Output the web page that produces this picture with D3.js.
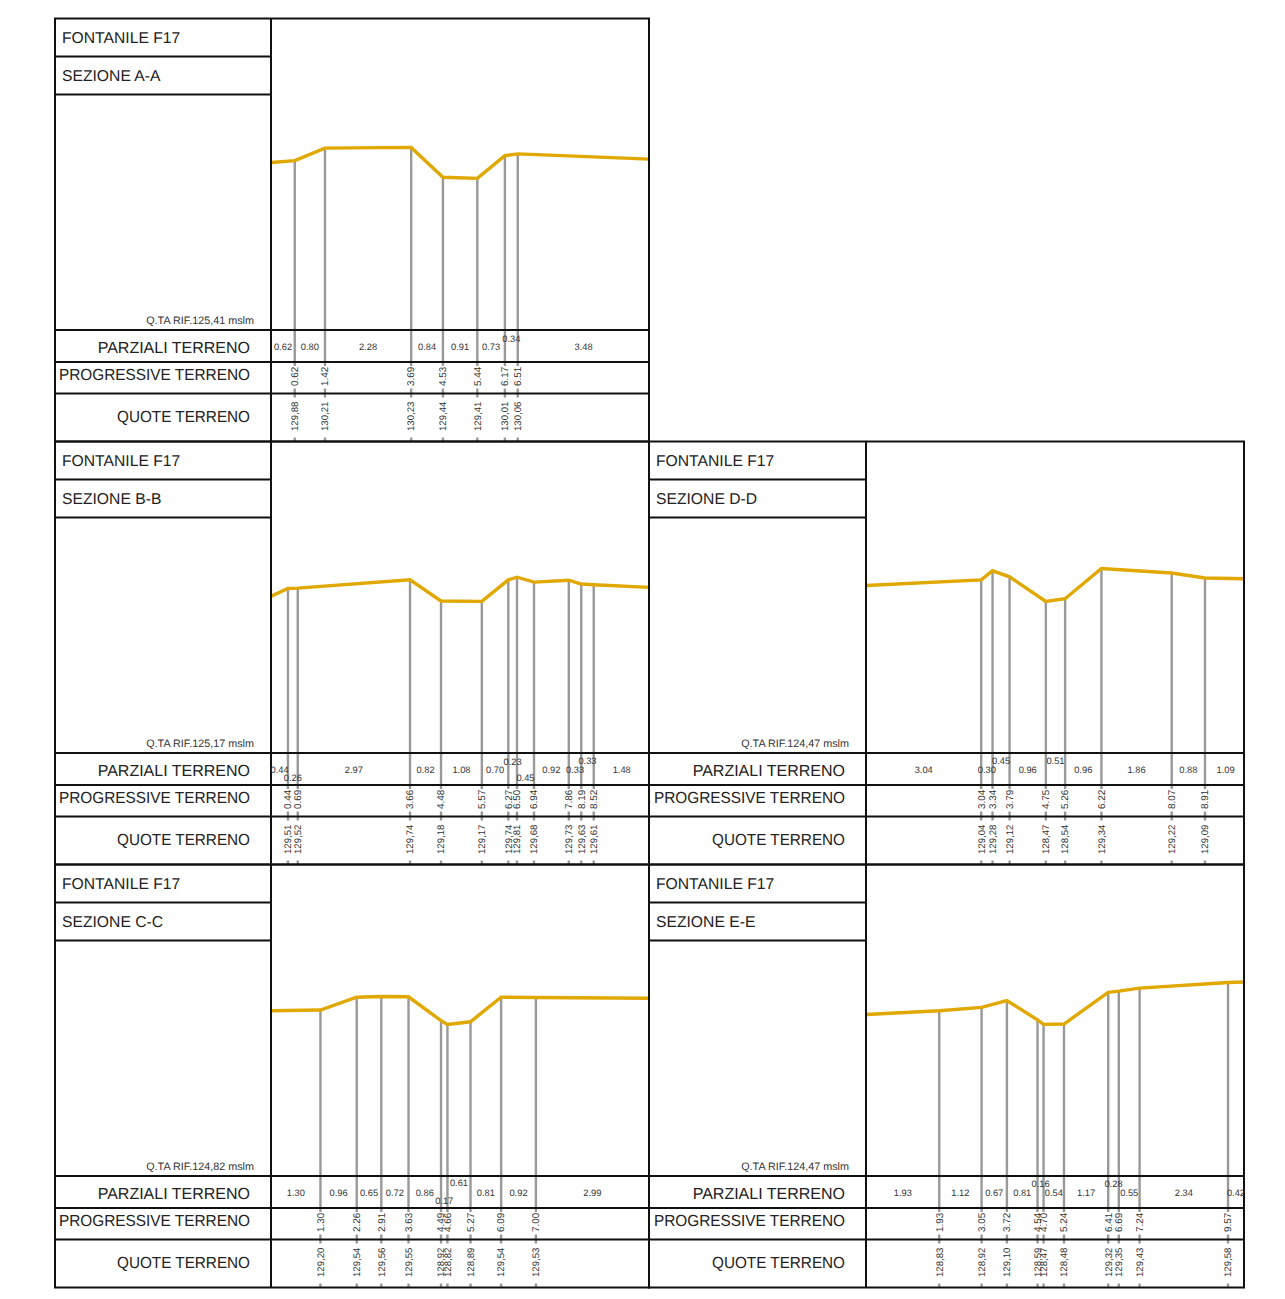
<!DOCTYPE html>
<html>
<head>
<meta charset="UTF-8">
<style>
	body { margin: 0; background: #fff; }
	svg { display: block; }
	text { font-family: "Liberation Sans", Arial, sans-serif; text-rendering: geometricPrecision; }
	.frame { stroke: #111; stroke-width: 2px; fill: none; }
	.terreno { stroke: #e0a800; stroke-width: 3.4px; fill: none; }
	.verticale { stroke: #999; stroke-width: 2.4px; }
	.titolo { font-size: 15.7px; fill: #222; }
	.riga { font-size: 16px; fill: #222; text-anchor: end; }
	.rif { font-size: 10.8px; fill: #333; text-anchor: end; }
	.parz { font-size: 9.3px; fill: #333; text-anchor: middle; }
	.prog { font-size: 9.9px; fill: #333; }
	.quota { font-size: 9.6px; fill: #333; }
</style>
<script src="https://d3js.org/d3.v7.min.js"></script>
</head>
<body>
<div id="chart"></div>
<script>
var sezioni = ["A-A", "B-B", "C-C", "D-D", "E-E"];
var colonna = [0, 0, 0, 1, 1];
var riga = [0, 1, 2, 1, 2];
var quotaRif = [125.41, 125.17, 124.82, 124.47, 124.47];

var parzialiA = [0.62, 0.80, 2.28, 0.84, 0.91, 0.73, 0.34, 3.48];
var parzialiB = [0.44, 0.26, 2.97, 0.82, 1.08, 0.70, 0.23, 0.45, 0.92, 0.33, 0.33, 1.48];
var parzialiC = [1.30, 0.96, 0.65, 0.72, 0.86, 0.17, 0.61, 0.81, 0.92, 2.99];
var parzialiD = [3.04, 0.30, 0.45, 0.96, 0.51, 0.96, 1.86, 0.88, 1.09];
var parzialiE = [1.93, 1.12, 0.67, 0.81, 0.16, 0.54, 1.17, 0.28, 0.55, 2.34, 0.42];

var progressiveA = [0.62, 1.42, 3.69, 4.53, 5.44, 6.17, 6.51];
var progressiveB = [0.44, 0.69, 3.66, 4.48, 5.57, 6.27, 6.50, 6.94, 7.86, 8.19, 8.52];
var progressiveC = [1.30, 2.26, 2.91, 3.63, 4.49, 4.66, 5.27, 6.09, 7.00];
var progressiveD = [3.04, 3.34, 3.79, 4.75, 5.26, 6.22, 8.07, 8.91];
var progressiveE = [1.93, 3.05, 3.72, 4.54, 4.70, 5.24, 6.41, 6.69, 7.24, 9.57];

var quoteA = [129.88, 130.21, 130.23, 129.44, 129.41, 130.01, 130.06];
var quoteB = [129.51, 129.52, 129.74, 129.18, 129.17, 129.74, 129.81, 129.68, 129.73, 129.63, 129.61];
var quoteC = [129.20, 129.54, 129.56, 129.55, 128.92, 128.82, 128.89, 129.54, 129.53];
var quoteD = [129.04, 129.28, 129.12, 128.47, 128.54, 129.34, 129.22, 129.09];
var quoteE = [128.83, 128.92, 129.10, 128.59, 128.47, 128.48, 129.32, 129.35, 129.43, 129.58];

// quote senza etichetta ai due estremi del profilo (stimate)
var quotaInizio = [129.83, 129.31, 129.18, 128.89, 128.73];
var quotaFine = [129.92, 129.54, 129.51, 129.07, 129.59];

var parziali = [parzialiA, parzialiB, parzialiC, parzialiD, parzialiE];
var progressive = [progressiveA, progressiveB, progressiveC, progressiveD, progressiveE];
var quote = [quoteA, quoteB, quoteC, quoteD, quoteE];

// etichette parziali spostate per non sovrapporsi (indice -> su/giu')
var spostati = [{6: -8}, {1: 8, 6: -8, 7: 8, 10: -9}, {5: 8, 6: -10}, {2: -9, 4: -9}, {4: -9, 7: -9}];

var pxPerM = 37.8;
var lunghezza = 10; // metri coperti da ogni pannello
var colX = [[55, 271, 649], [649, 866, 1244]];
var rigaY = [18.5, 441.5, 864.5];
// altezze delle righe rispetto alla cima del pannello
var hTit = 38, hSez = 76, hBase = 311.5, hParz = 343.5, hProg = 375, hFine = 423;

var svg = d3.select("#chart").append("svg")
	.attr("width", 1285)
	.attr("height", 1299);

// disegna un pannello completo
var drawSezione = function(i){
	var x0 = colX[colonna[i]][0], x1 = colX[colonna[i]][1], x2 = colX[colonna[i]][2];
	var g = svg.append("g").attr("transform", "translate(0," + rigaY[riga[i]] + ")");

	var prog = progressive[i], q = quote[i], parz = parziali[i];

	var x = d3.scaleLinear().domain([0, lunghezza]).range([x1 + 0.3, x2 + 0.3]);
	var y = d3.scaleLinear().domain([quotaRif[i], quotaRif[i] + 6]).range([hBase - 0.4, hBase - 0.4 - 6 * pxPerM]);

	// le verticali seguono la somma dei parziali, come nel disegno originale
	var bordi = [0].concat(Array.from(d3.cumsum(parz)));
	var posiz = bordi.slice(1, prog.length + 1);

	g.selectAll("line.verticale").data(posiz).enter().append("line")
		.attr("class", "verticale")
		.attr("x1", function(d){ return x(d); })
		.attr("x2", function(d){ return x(d); })
		.attr("y1", function(d, k){ return y(q[k]); })
		.attr("y2", hParz + 4);

	[[hProg - 5, hProg + 4], [hFine - 4, hFine]].forEach(function(t){
		g.selectAll(null).data(posiz).enter().append("line")
			.attr("class", "verticale")
			.attr("x1", function(d){ return x(d); })
			.attr("x2", function(d){ return x(d); })
			.attr("y1", t[0])
			.attr("y2", t[1]);
	});

	// profilo del terreno
	var punti = [[0, quotaInizio[i]]]
		.concat(posiz.map(function(d, k){ return [d, q[k]]; }))
		.concat([[lunghezza, quotaFine[i]]]);

	g.append("path")
		.attr("class", "terreno")
		.attr("d", d3.line().x(function(d){ return x(d[0]); }).y(function(d){ return y(d[1]); })(punti));

	// cornici
	g.append("rect").attr("class", "frame").attr("x", x0).attr("y", 0).attr("width", x2 - x0).attr("height", hFine);
	g.append("line").attr("class", "frame").attr("x1", x1).attr("x2", x1).attr("y1", 0).attr("y2", hFine);
	[hTit, hSez].forEach(function(h){
		g.append("line").attr("class", "frame").attr("x1", x0).attr("x2", x1).attr("y1", h).attr("y2", h);
	});
	[hBase, hParz, hProg].forEach(function(h){
		g.append("line").attr("class", "frame").attr("x1", x0).attr("x2", x2).attr("y1", h).attr("y2", h);
	});

	// testi colonna sinistra
	g.append("text").attr("class", "titolo").attr("x", x0 + 7).attr("y", 24).text("FONTANILE F17");
	g.append("text").attr("class", "titolo").attr("x", x0 + 7).attr("y", 62).text("SEZIONE " + sezioni[i]);
	g.append("text").attr("class", "rif").attr("x", x1 - 17).attr("y", 305.5)
		.text("Q.TA RIF." + quotaRif[i].toFixed(2).replace(".", ",") + " mslm");
	g.append("text").attr("class", "riga").attr("x", x1 - 21).attr("y", 334.5).text("PARZIALI TERRENO");
	g.append("text").attr("class", "riga").attr("x", x1 - 21).attr("y", 361.5)
		.attr("textLength", 191).attr("lengthAdjust", "spacingAndGlyphs").text("PROGRESSIVE TERRENO");
	g.append("text").attr("class", "riga").attr("x", x1 - 21).attr("y", 403.5)
		.attr("textLength", 133).attr("lengthAdjust", "spacingAndGlyphs").text("QUOTE TERRENO");

	// parziali, centrate tra due progressive
	g.selectAll("text.parz").data(parz).enter().append("text")
		.attr("class", "parz")
		.attr("x", function(d, k){ return x((bordi[k] + bordi[k + 1]) / 2); })
		.attr("y", function(d, k){ return 331.5 + (spostati[i][k] || 0); })
		.text(function(d){ return d.toFixed(2); });

	// progressive e quote ruotate
	g.selectAll("text.prog").data(prog).enter().append("text")
		.attr("class", "prog")
		.attr("transform", function(d, k){ return "translate(" + (x(posiz[k]) + 3.3) + "," + (hProg - 7.5) + ") rotate(-90)"; })
		.text(function(d){ return d.toFixed(2); });

	g.selectAll("text.quota").data(q).enter().append("text")
		.attr("class", "quota")
		.attr("transform", function(d, k){ return "translate(" + (x(posiz[k]) + 3.3) + "," + (hFine - 10.5) + ") rotate(-90)"; })
		.text(function(d){ return d.toFixed(2).replace(".", ","); });
};

sezioni.forEach(function(s, i){ drawSezione(i); });
</script>
</body>
</html>
